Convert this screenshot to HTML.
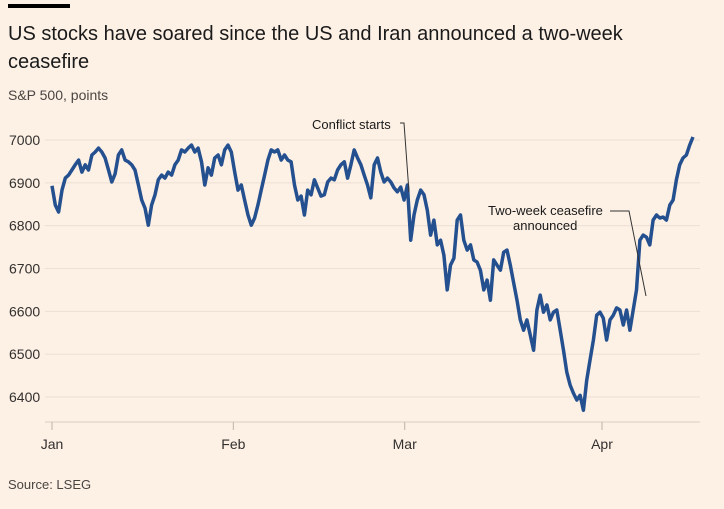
<!DOCTYPE html>
<html><head><meta charset="utf-8"><style>
body{margin:0;background:#fdf1e6;width:724px;height:509px;overflow:hidden;font-family:"Liberation Sans",sans-serif;color:#33302e}
</style></head><body>
<svg width="724" height="509" style="position:absolute;left:0;top:0">
<rect x="8" y="4" width="62" height="4" fill="#000"/>
<text x="8" y="40" font-size="20" fill="#1a1a1a">US stocks have soared since the US and Iran announced a two-week</text>
<text x="8" y="68" font-size="20" fill="#1a1a1a">ceasefire</text>
<text x="8" y="100" font-size="14" fill="#4a4541">S&amp;P 500, points</text>
<g id="grid"></g><g id="xaxis"></g>
<path id="line" fill="none" stroke="#25508f" stroke-width="3.5" stroke-linejoin="round"/>
<text x="312" y="129" font-size="13" fill="#1a1a1a">Conflict starts</text>
<polyline points="400,123 404,123 409,192" fill="none" stroke="#333" stroke-width="1"/>
<text x="488" y="215" font-size="13" fill="#1a1a1a">Two-week ceasefire</text>
<text x="513" y="230" font-size="13" fill="#1a1a1a">announced</text>
<polyline points="610,211 629,211 646,296" fill="none" stroke="#333" stroke-width="1"/>
<text x="8" y="489" font-size="13" fill="#4a4541">Source: LSEG</text>
</svg>
<script>
const values=[6893,6848,6832,6883,6911,6918,6930,6942,6953,6925,6942,6930,6965,6972,6981,6972,6958,6930,6902,6921,6965,6977,6953,6949,6942,6930,6895,6860,6841,6801,6848,6872,6907,6918,6911,6925,6918,6942,6953,6977,6972,6981,6988,6972,6981,6949,6895,6935,6918,6958,6965,6942,6977,6988,6972,6925,6883,6895,6860,6825,6801,6818,6848,6883,6918,6953,6977,6972,6977,6953,6965,6953,6949,6895,6860,6869,6825,6883,6872,6907,6888,6869,6872,6902,6911,6907,6930,6942,6949,6911,6942,6977,6958,6942,6918,6895,6865,6942,6958,6925,6902,6911,6902,6888,6879,6890,6860,6895,6766,6825,6860,6883,6872,6836,6778,6813,6755,6766,6731,6650,6708,6724,6813,6825,6766,6743,6755,6720,6715,6696,6650,6673,6626,6720,6708,6696,6738,6743,6708,6666,6626,6580,6556,6580,6544,6509,6603,6638,6598,6615,6580,6598,6603,6556,6509,6458,6428,6409,6393,6404,6369,6439,6486,6533,6591,6598,6584,6533,6580,6591,6608,6603,6568,6603,6556,6603,6650,6766,6778,6773,6755,6813,6825,6818,6820,6813,6848,6860,6907,6942,6958,6965,6988,7007];
const yTicks=[6400,6500,6600,6700,6800,6900,7000];
const monthLabels=["Jan","Feb","Mar","Apr"];
const monthTickIdx=[0,54.6,106.2,165.6];
const X0=52,X1=693,Y0=140,Y1=397;
const x=i=>X0+(X1-X0)*i/(values.length-1);
const y=v=>Y1-(v-6400)/(7000-6400)*(Y1-Y0);
const NS="http://www.w3.org/2000/svg";
const grid=document.getElementById('grid');
yTicks.forEach(t=>{
 const l=document.createElementNS(NS,'line');
 l.setAttribute('x1',45);l.setAttribute('x2',700);l.setAttribute('y1',y(t));l.setAttribute('y2',y(t));
 l.setAttribute('stroke','#ece0d4');l.setAttribute('stroke-width','1');
 
 
 grid.appendChild(l);
 const tx=document.createElementNS(NS,'text');
 tx.setAttribute('x',9);tx.setAttribute('y',y(t)+5);tx.setAttribute('font-size','14');tx.setAttribute('fill','#33302e');
 tx.textContent=t;
 
 
 grid.appendChild(tx);
});
const xa=document.getElementById('xaxis');
const base=document.createElementNS(NS,'line');
base.setAttribute('x1',45);base.setAttribute('x2',700);base.setAttribute('y1',422);base.setAttribute('y2',422);base.setAttribute('stroke','#d9cbbd');


xa.appendChild(base);
monthLabels.forEach((m,k)=>{
 const px=x(monthTickIdx[k]);
 const t=document.createElementNS(NS,'line');
 t.setAttribute('x1',px);t.setAttribute('x2',px);t.setAttribute('y1',422);t.setAttribute('y2',430);t.setAttribute('stroke','#bfb2a6');
 
 
 xa.appendChild(t);
 const tx=document.createElementNS(NS,'text');
 tx.setAttribute('x',px);tx.setAttribute('y',449);tx.setAttribute('font-size','14');tx.setAttribute('text-anchor','middle');tx.setAttribute('fill','#33302e');
 tx.textContent=m;
 
 
 xa.appendChild(tx);
});
document.getElementById('line').setAttribute('d',values.map((v,i)=>(i?'L':'M')+x(i).toFixed(1)+','+y(v).toFixed(1)).join(''));
</script>
</body></html>
